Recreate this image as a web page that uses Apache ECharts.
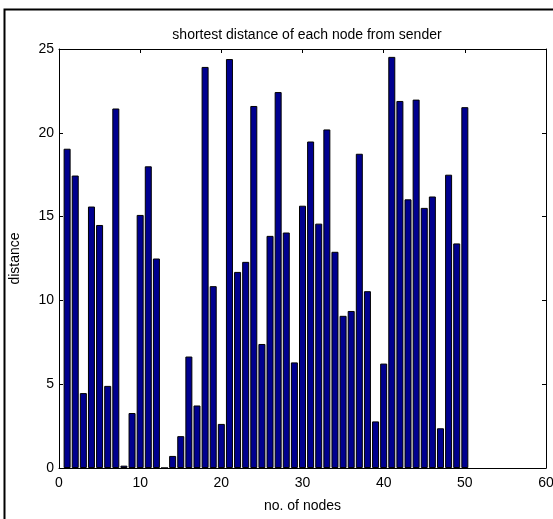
<!DOCTYPE html>
<html>
<head>
<meta charset="utf-8">
<script src="https://cdn.jsdelivr.net/npm/echarts@6/dist/echarts.min.js"></script>
<style>
  html, body { margin: 0; padding: 0; background: #fff; }
  #chart { width: 553px; height: 519px; }
</style>
</head>
<body>
<div id="chart"></div>
<script>
var nodes = [];
for (var n = 1; n <= 50; n++) nodes.push(n);

var distances = [
    19.05, 17.45, 4.47, 15.6, 14.5, 4.9, 21.45, 0.14, 3.28, 15.1,
    18.0, 12.5, 0, 0.72, 1.9, 6.65, 3.73, 23.93, 10.85, 2.63,
    24.4, 11.7, 12.3, 21.6, 7.4, 13.85, 22.43, 14.05, 6.3, 15.65,
    19.48, 14.58, 20.2, 12.9, 9.08, 9.37, 18.75, 10.55, 2.78, 6.23,
    24.53, 21.9, 16.03, 21.98, 15.52, 16.2, 2.37, 17.5, 13.4, 21.53
];

var xTicks = [0, 10, 20, 30, 40, 50, 60];
var yTicks = [0, 5, 10, 15, 20, 25];

(function () {
    var myChart = echarts.init(document.getElementById('chart'));
    var font = 'Liberation Sans, Arial, sans-serif';
    var pairs = nodes.map(function (x, i) { return [x, distances[i]]; });

    var tick = { show: true, inside: true, length: 4, lineStyle: { color: '#000' } };
    var line = { show: true, onZero: false, lineStyle: { color: '#000', width: 1 } };

    var option = {
        animation: false,
        backgroundColor: '#fff',
        title: {
            text: 'shortest distance of each node from sender',
            left: 302,
            textAlign: 'center',
            top: 23,
            textStyle: { fontFamily: font, fontSize: 14, fontWeight: 'normal', color: '#000' }
        },
        graphic: [{
            type: 'rect',
            shape: { x: 4.5, y: 9.5, width: 600, height: 600 },
            style: { fill: 'none', stroke: '#000', lineWidth: 2 }
        }],
        grid: { left: 59, top: 49, width: 487, height: 419, outerBoundsMode: 'none', containLabel: false },
        xAxis: [{
            type: 'value', min: xTicks[0], max: xTicks[xTicks.length - 1], interval: 10,
            position: 'bottom',
            name: 'no. of nodes', nameLocation: 'middle', nameGap: 31,
            nameTextStyle: { fontFamily: font, fontSize: 14, color: '#000' },
            axisLine: line, axisTick: tick, splitLine: { show: false },
            axisLabel: { fontFamily: font, fontSize: 14, color: '#000', margin: 8 }
        }, {
            type: 'value', min: 0, max: 60, interval: 10, position: 'top',
            axisLine: line, axisTick: tick, splitLine: { show: false },
            axisLabel: { show: false }
        }],
        yAxis: [{
            type: 'value', min: yTicks[0], max: yTicks[yTicks.length - 1], interval: 5,
            position: 'left',
            name: 'distance', nameLocation: 'middle', nameGap: 37,
            nameTextStyle: { fontFamily: font, fontSize: 14, color: '#000' },
            axisLine: line, axisTick: tick, splitLine: { show: false },
            axisLabel: { fontFamily: font, fontSize: 14, color: '#000', margin: 5 }
        }, {
            type: 'value', min: 0, max: 25, interval: 5, position: 'right',
            axisLine: line, axisTick: tick, splitLine: { show: false },
            axisLabel: { show: false }
        }],
        series: [{
            type: 'bar',
            data: pairs,
            barWidth: 7,
            itemStyle: { color: '#00008f', borderColor: '#000', borderWidth: 1 }
        }]
    };

    myChart.setOption(option);
    window.addEventListener('resize', function () {
        myChart.resize();
    });
})();
</script>
</body>
</html>
